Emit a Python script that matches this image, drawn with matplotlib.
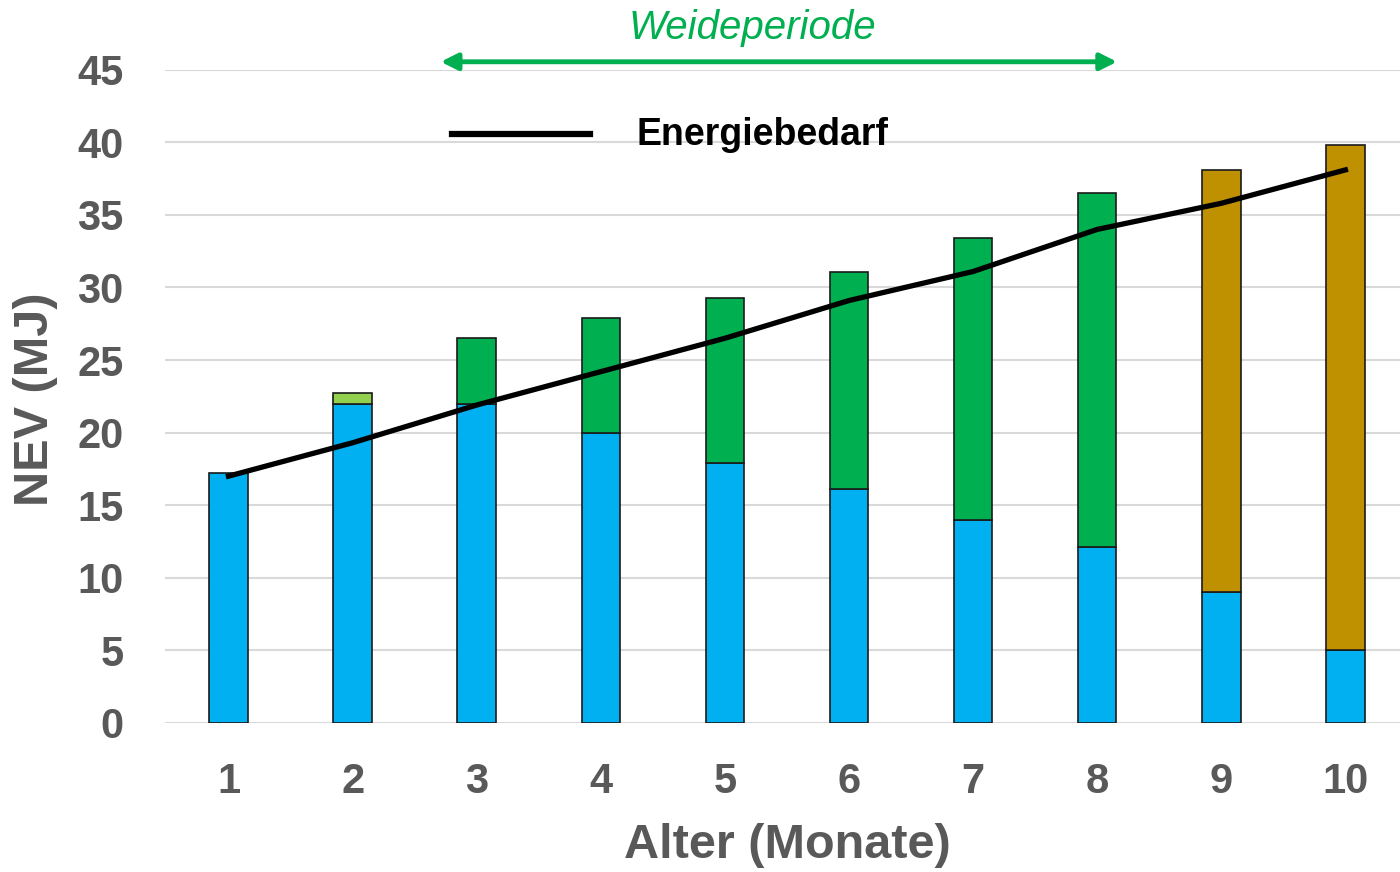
import matplotlib
matplotlib.use("Agg")
import matplotlib.pyplot as plt
import numpy as np

# data
monate = [1, 2, 3, 4, 5, 6, 7, 8, 9, 10]
milch = [17.2, 22.0, 22.0, 20.0, 17.9, 16.1, 14.0, 12.1, 9.0, 5.0]
kraftfutter = [0, 0.7, 0, 0, 0, 0, 0, 0, 0, 0]
weide = [0, 0, 4.5, 7.9, 11.4, 15.0, 19.4, 24.4, 0, 0]
heu = [0, 0, 0, 0, 0, 0, 0, 0, 29.1, 34.8]
energiebedarf = [17.0, 19.3, 21.9, 24.2, 26.5, 29.1, 31.1, 34.0, 35.8, 38.1]
yticks = [0, 5, 10, 15, 20, 25, 30, 35, 40, 45]

plt.rcParams['font.family'] = ['Liberation Sans', 'DejaVu Sans']
grau = '#595959'

fig = plt.figure(figsize=(14, 8.72), dpi=100)
ax = fig.add_axes([0.118, 0.171, 0.882, 0.749])

x = np.array(monate)
w = 0.31
unten = np.zeros(len(x))
for werte, farbe in [(milch, '#00B0F0'), (kraftfutter, '#92D050'),
                     (weide, '#00B050'), (heu, '#BF9000')]:
    werte = np.array(werte)
    m = werte > 0
    ax.bar(x[m], werte[m], w, bottom=unten[m], color=farbe,
           edgecolor='#1a1a1a', linewidth=1.2, zorder=2)
    unten = unten + werte

ax.plot(x, energiebedarf, color='black', lw=3.8, zorder=3)

ax.set_xlim(0.49, 10.44)
ax.set_ylim(0, 45)
ax.set_xticks(monate)
ax.set_yticks(yticks)
ax.tick_params(length=0, labelsize=30, labelcolor=grau)
ax.tick_params(axis='x', pad=28)
ax.tick_params(axis='y', pad=30)
for lab in ax.get_xticklabels() + ax.get_yticklabels():
    lab.set_fontweight('bold')
ax.grid(axis='y', color='#D9D9D9', lw=1.5, zorder=0)
for s in ax.spines.values():
    s.set_visible(False)

ax.set_xlabel('Alter (Monate)', fontsize=35, fontweight='bold', color=grau)
ax.xaxis.set_label_coords(0.504, -0.187)
ax.xaxis.label.set_va('center')
ax.set_ylabel('NEV (MJ)', fontsize=35, fontweight='bold', color=grau)
ax.yaxis.set_label_coords(-0.105, 0.495)
ax.yaxis.label.set_va('center')

# Weideperiode arrow and legend
ax.annotate('', xy=(2.71, 45.55), xytext=(8.16, 45.55),
            arrowprops=dict(arrowstyle='<|-|>', color='#00B050', lw=3.5,
                            mutation_scale=25, shrinkA=0, shrinkB=0),
            annotation_clip=False)
ax.text(5.22, 47.9, 'Weideperiode', color='#00B050', fontsize=29,
        style='italic', ha='center', va='center', clip_on=False)
ax.plot([2.80, 3.91], [40.6, 40.6], color='black', lw=4.5, clip_on=False)
ax.text(4.29, 40.5, 'Energiebedarf', color='black', fontsize=27,
        fontweight='bold', ha='left', va='center')

fig.savefig('out.png', dpi=100)
